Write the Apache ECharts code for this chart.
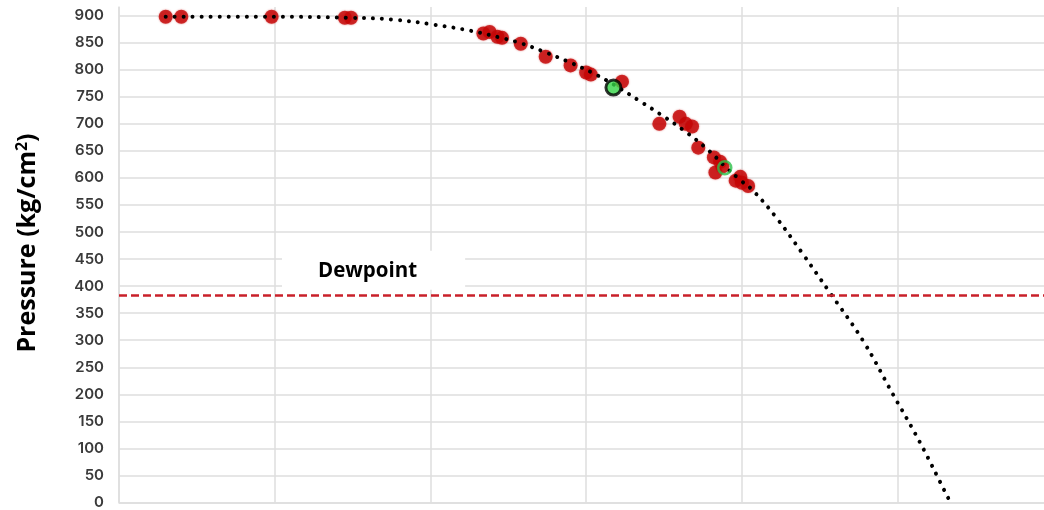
<!DOCTYPE html>
<html>
<head>
<meta charset="utf-8">
<script src="https://cdn.jsdelivr.net/npm/echarts@6/dist/echarts.min.js"></script>
<style>
  html, body { margin: 0; padding: 0; background: #ffffff; }
  #chart { width: 1044px; height: 510px; }
</style>
</head>
<body>
<div id="chart"></div>
<script>
// Measured samples: [x, pressure]
const samplePoints = [
  [3.0, 898], [4.0, 898], [9.8, 898], [14.5, 896], [14.9, 896],
  [23.4, 867], [23.8, 870], [24.3, 861], [24.6, 859], [25.8, 848],
  [27.4, 824], [29.0, 808], [30.0, 795], [30.3, 791], [32.3, 778],
  [34.7, 700], [36.0, 713], [36.4, 700], [36.8, 695], [37.2, 656],
  [38.2, 638], [38.6, 630], [38.3, 610], [38.75, 621], [39.6, 595],
  [39.9, 602], [40.4, 585], [40.0, 591]
];

// Highlighted samples
const keyPoint = [[31.75, 767]];
const ringPoint = [[38.9, 619]];

// Fitted trend curve
const trendCurve = [
  [3.0, 898], [9.9, 898], [14.9, 896], [17.5, 893], [20.3, 883],
  [22.6, 872], [24.4, 860], [25.8, 849], [27.4, 832], [29.0, 813],
  [30.5, 793], [31.8, 772], [33.5, 741], [34.8, 717], [36.5, 683],
  [37.9, 650], [39.0, 619], [39.9, 596], [40.7, 577], [42.2, 527],
  [43.8, 464], [45.6, 390], [47.8, 298], [49.7, 200], [51.4, 113],
  [53.2, 11], [53.4, 0]
];

const dewpointPressure = 384;
const dewpointLabel = 'Dewpoint';
const yAxisTitle = ['Pressure (kg/cm', '2', ')'];

const chart = echarts.init(document.getElementById('chart'), null, { renderer: 'canvas' });

const gridColor = '#dedede';

chart.setOption({
  animation: false,
  backgroundColor: '#ffffff',
  grid: { left: 119, right: 0, top: 7, bottom: 7 },
  xAxis: {
    type: 'value',
    min: 0,
    max: 59.4,
    interval: 10,
    axisLine: { show: true, lineStyle: { color: gridColor, width: 1.5 } },
    axisTick: { show: false },
    axisLabel: { show: false },
    splitLine: { show: true, showMaxLine: false, lineStyle: { color: gridColor, width: 1.5 } }
  },
  yAxis: {
    type: 'value',
    min: 0,
    max: 916,
    interval: 50,
    axisLine: { show: true, lineStyle: { color: gridColor, width: 1.5 } },
    axisTick: { show: false },
    axisLabel: {
      showMaxLabel: false,
      margin: 15,
      color: '#3a3a3a',
      fontFamily: 'Inter',
      fontWeight: 600,
      fontSize: 15,
      formatter: v => (v % 50 === 0 ? String(v) : '')
    },
    splitLine: { show: true, showMaxLine: false, lineStyle: { color: gridColor, width: 1.5 } }
  },
  graphic: [{
    type: 'text',
    x: 28,
    y: 243,
    rotation: Math.PI / 2,
    style: {
      text: '{a|' + yAxisTitle[0] + '}{s|' + yAxisTitle[1] + '}{a|' + yAxisTitle[2] + '}',
      align: 'center',
      verticalAlign: 'middle',
      fill: '#000000',
      rich: {
        a: { fontFamily: 'Open Sans', fontWeight: 'bold', fontSize: 25, fill: '#000000' },
        s: { fontFamily: 'Open Sans', fontWeight: 'bold', fontSize: 16, fill: '#000000', verticalAlign: 'top', padding: [0, 0, 12, 0] }
      }
    }
  }],
  series: [
    {
      name: 'Samples',
      type: 'scatter',
      data: samplePoints,
      symbol: 'circle',
      symbolSize: 14,
      itemStyle: { color: '#c40606', shadowBlur: 2, shadowColor: 'rgba(196,6,6,0.6)' },
      z: 2,
      markLine: {
        silent: true,
        symbol: 'none',
        animation: false,
        lineStyle: { color: '#c9202a', type: [8, 4], width: 2.5 },
        label: {
          show: true,
          position: 'insideStartTop',
          distance: [163, 5],
          formatter: dewpointLabel,
          color: '#000000',
          fontFamily: 'Open Sans',
          fontWeight: 'bold',
          fontSize: 20.5,
          backgroundColor: '#ffffff',
          padding: [10, 48, 8, 36]
        },
        data: [{ yAxis: dewpointPressure }]
      }
    },
    {
      name: 'Trend',
      type: 'line',
      data: trendCurve,
      smooth: 0.4,
      showSymbol: false,
      symbol: 'none',
      lineStyle: { color: '#000000', width: 4, type: [0.01, 9], cap: 'round' },
      z: 3
    },
    {
      name: 'Key',
      type: 'scatter',
      data: keyPoint,
      symbol: 'circle',
      symbolSize: 15,
      itemStyle: { color: '#33d646', borderColor: '#000000', borderWidth: 3 },
      z: 4
    },
    {
      name: 'Ring',
      type: 'scatter',
      data: ringPoint,
      symbol: 'circle',
      symbolSize: 13,
      itemStyle: { color: 'rgba(0,0,0,0)', borderColor: '#2cc14a', borderWidth: 2.5 },
      z: 4
    }
  ]
});
</script>
</body>
</html>
